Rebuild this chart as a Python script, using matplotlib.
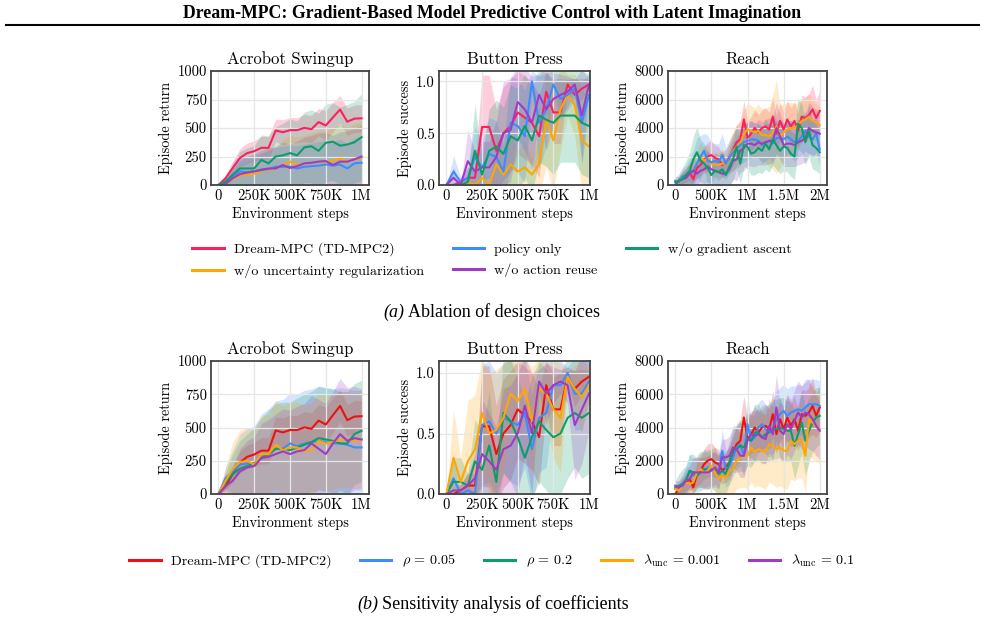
import numpy as np
import matplotlib.pyplot as plt
from matplotlib.lines import Line2D

plt.rcParams['font.family'] = 'cmr10'
plt.rcParams['mathtext.fontset'] = 'cm'
plt.rcParams['axes.formatter.use_mathtext'] = True

# colours
RED_A = '#FF1F5B'
RED_B = '#EE1111'
BLUE = '#3C8CFF'
GREEN = '#0C9E6A'
ORANGE = '#FFA600'
PURPLE = '#A03CC4'

# evaluation grids (every 50K steps)
steps_1m = np.arange(21) * 50_000
steps_2m = np.arange(41) * 50_000

# ---------------- Acrobot Swingup ----------------
acro_dream = [0, 60, 150, 237, 279, 297, 326, 326, 478, 463, 481, 481, 501, 490, 552, 522, 593, 662, 555, 582, 585]
acro_dream_sd = [0, 30, 60, 80, 90, 90, 100, 100, 100, 110, 110, 110, 120, 120, 120, 130, 130, 120, 120, 120, 120]
# (a) ablations
acro_policy = [0, 30, 80, 120, 110, 120, 130, 140, 160, 160, 160, 145, 160, 165, 170, 180, 170, 180, 145, 190, 195]
acro_policy_sd = [0, 40, 90, 130, 140, 140, 150, 160, 170, 180, 190, 200, 200, 200, 210, 210, 210, 220, 220, 220, 230]
acro_nograd = [0, 30, 90, 145, 145, 145, 220, 190, 250, 260, 280, 260, 330, 340, 300, 370, 380, 345, 355, 375, 420]
acro_nograd_sd = [0, 40, 100, 150, 180, 200, 220, 240, 260, 280, 300, 300, 310, 320, 330, 340, 340, 340, 350, 360, 380]
acro_nounc = [0, 20, 50, 85, 90, 100, 120, 135, 140, 175, 205, 180, 185, 195, 205, 200, 215, 230, 210, 225, 240]
acro_nounc_sd = [0, 30, 70, 100, 120, 140, 160, 180, 200, 220, 230, 240, 250, 260, 270, 280, 290, 300, 300, 310, 320]
acro_noreuse = [0, 10, 60, 95, 110, 120, 135, 145, 145, 175, 150, 165, 190, 195, 205, 210, 175, 205, 205, 225, 250]
acro_noreuse_sd = [0, 30, 80, 120, 140, 150, 170, 180, 190, 200, 210, 220, 230, 240, 250, 250, 260, 260, 270, 270, 280]
# (b) coefficients
acro_rho005 = [0, 120, 170, 220, 230, 230, 280, 300, 340, 340, 380, 360, 380, 390, 400, 390, 380, 380, 370, 350, 350]
acro_rho005_sd = [0, 80, 160, 230, 260, 280, 320, 340, 360, 370, 380, 390, 400, 400, 410, 410, 410, 420, 420, 430, 430]
acro_rho02 = [0, 90, 150, 190, 210, 230, 270, 300, 340, 340, 330, 350, 370, 390, 420, 410, 400, 380, 380, 450, 475]
acro_rho02_sd = [0, 70, 150, 210, 240, 270, 300, 330, 340, 350, 360, 370, 380, 380, 390, 390, 390, 390, 390, 380, 380]
acro_lam0001 = [0, 100, 190, 240, 250, 220, 300, 300, 370, 330, 350, 350, 320, 330, 400, 380, 390, 410, 410, 400, 410]
acro_lam0001_sd = [0, 100, 200, 240, 250, 260, 290, 300, 330, 330, 340, 340, 350, 350, 360, 360, 360, 360, 360, 360, 360]
acro_lam01 = [0, 60, 100, 170, 200, 210, 270, 280, 300, 320, 300, 320, 330, 380, 340, 300, 380, 450, 400, 420, 410]
acro_lam01_sd = [0, 50, 110, 170, 200, 220, 260, 280, 300, 320, 330, 340, 350, 360, 370, 380, 390, 420, 400, 390, 380]

# ---------------- Button Press ----------------
btn_dream = [0, 0, 0.03, 0.07, 0.07, 0.56, 0.56, 0.33, 0.5, 0.57, 0.7, 0.65, 0.6, 0.47, 0.9, 0.7, 0.7, 0.97, 0.87, 0.93, 0.97]
btn_dream_sd = [0, 0, 0.05, 0.1, 0.1, 0.5, 0.5, 0.4, 0.45, 0.45, 0.4, 0.4, 0.4, 0.4, 0.2, 0.3, 0.3, 0.05, 0.15, 0.1, 0.05]
btn_policy = [0, 0.13, 0.03, 0.07, 0.27, 0.17, 0.3, 0.27, 0.13, 0.6, 0.57, 0.47, 1.0, 0.6, 0.73, 0.97, 0.83, 0.87, 0.93, 0.6, 0.87]
btn_policy_sd = [0, 0.15, 0.05, 0.1, 0.3, 0.25, 0.35, 0.35, 0.25, 0.45, 0.45, 0.45, 0.1, 0.45, 0.35, 0.05, 0.2, 0.15, 0.1, 0.4, 0.2]
btn_nograd = [0, 0, 0, 0.03, 0.33, 0.1, 0.33, 0.37, 0.3, 0.47, 0.43, 0.57, 0.43, 0.67, 0.63, 0.6, 0.67, 0.67, 0.67, 0.6, 0.57]
btn_nograd_sd = [0, 0, 0, 0.05, 0.45, 0.15, 0.4, 0.45, 0.45, 0.5, 0.5, 0.5, 0.5, 0.45, 0.45, 0.5, 0.45, 0.45, 0.45, 0.5, 0.5]
btn_nounc = [0, 0, 0, 0.03, 0, 0.07, 0, 0.2, 0.1, 0.2, 0.13, 0.17, 0.1, 0.2, 0.63, 0.43, 0.73, 0.87, 0.77, 0.43, 0.37]
btn_nounc_sd = [0, 0, 0, 0.05, 0, 0.1, 0, 0.3, 0.15, 0.3, 0.2, 0.25, 0.15, 0.3, 0.45, 0.5, 0.4, 0.2, 0.3, 0.5, 0.45]
btn_noreuse = [0, 0.07, 0, 0.23, 0.13, 0.17, 0.17, 0.27, 0.5, 0.53, 0.8, 0.73, 0.6, 0.87, 0.73, 0.83, 0.87, 0.9, 0.97, 0.67, 0.97]
btn_noreuse_sd = [0, 0.1, 0, 0.3, 0.2, 0.25, 0.25, 0.35, 0.5, 0.5, 0.35, 0.4, 0.45, 0.2, 0.4, 0.25, 0.2, 0.15, 0.05, 0.45, 0.05]
btn_rho005 = [0, 0.13, 0, 0.03, 0, 0.57, 0.6, 0.5, 0.63, 0.6, 0.57, 0.67, 0.37, 0.63, 0.67, 0.9, 0.9, 1.0, 0.83, 0.83, 0.93]
btn_rho005_sd = [0, 0.15, 0, 0.05, 0, 0.5, 0.5, 0.5, 0.45, 0.5, 0.5, 0.45, 0.45, 0.45, 0.45, 0.2, 0.2, 0.05, 0.3, 0.3, 0.15]
btn_rho02 = [0, 0.1, 0.1, 0.07, 0.27, 0.2, 0.4, 0.1, 0.67, 0.6, 0.47, 0.3, 0.47, 0.6, 0.53, 0.47, 0.5, 0.63, 0.67, 0.63, 0.67]
btn_rho02_sd = [0, 0.2, 0.2, 0.1, 0.35, 0.3, 0.45, 0.2, 0.5, 0.5, 0.5, 0.45, 0.5, 0.5, 0.5, 0.5, 0.5, 0.5, 0.45, 0.5, 0.5]
btn_lam0001 = [0, 0.3, 0.1, 0.27, 0.37, 0.67, 0.5, 0.53, 0.63, 0.83, 0.77, 0.87, 0.6, 0.87, 0.83, 0.7, 0.63, 0.97, 0.87, 0.8, 0.9]
btn_lam0001_sd = [0, 0.4, 0.2, 0.5, 0.45, 0.45, 0.5, 0.5, 0.45, 0.3, 0.35, 0.25, 0.45, 0.25, 0.25, 0.4, 0.45, 0.05, 0.2, 0.3, 0.15]
btn_lam01 = [0, 0.03, 0.03, 0.07, 0.13, 0.33, 0.27, 0.2, 0.37, 0.4, 0.5, 0.73, 0.5, 0.93, 0.83, 0.9, 0.93, 0.9, 0.57, 0.7, 0.83]
btn_lam01_sd = [0, 0.05, 0.05, 0.1, 0.2, 0.45, 0.4, 0.35, 0.5, 0.5, 0.5, 0.4, 0.5, 0.1, 0.25, 0.15, 0.1, 0.15, 0.45, 0.45, 0.3]

# ---------------- Reach ----------------
reach_dream = [0, 300, 500, 700, 900, 400, 1200, 1400, 1800, 2000, 2100, 1900, 1800, 1400, 1600, 1900, 2500, 3000, 3200, 4600,
               3300, 3600, 4000, 3700, 4000, 4100, 3900, 4800, 3600, 4500, 3900, 4600, 4100, 4500, 3800, 4800, 4700, 4900, 5300, 4700, 5200]
reach_dream_sd = [200, 300, 400, 500, 600, 500, 700, 800, 900, 1000, 1000, 900, 900, 800, 900, 1000, 1100, 1200, 1300, 1300,
                  1200, 1200, 1300, 1200, 1300, 1300, 1200, 1400, 1200, 1300, 1200, 1300, 1300, 1400, 1200, 1500, 1500, 1500, 1700, 1300, 1400]
reach_policy = [300, 200, 600, 600, 900, 1000, 1500, 2000, 2400, 1700, 1600, 1700, 1600, 2100, 1500, 2000, 2300, 2600, 2800, 3000,
                3100, 3200, 3200, 3100, 2800, 3000, 3100, 2900, 3300, 3300, 3200, 3400, 3200, 3000, 3100, 3400, 3800, 3400, 3200, 3600, 2500]
reach_policy_sd = [300, 400, 600, 800, 1000, 1400, 1800, 1500, 1200, 1800, 1400, 1200, 1300, 1500, 1100, 1200, 1300, 1300, 1300, 1400,
                   1300, 1300, 1200, 1200, 1300, 1300, 1200, 1300, 1200, 1300, 1200, 1200, 1300, 1300, 1200, 1300, 1400, 1200, 1300, 1300, 1200]
reach_nograd = [200, 300, 400, 700, 1000, 1800, 2300, 1700, 1500, 1200, 700, 1000, 900, 1100, 700, 1300, 1800, 2700, 1500, 2800,
                2700, 2200, 2300, 2600, 2400, 2900, 2500, 3200, 2800, 2400, 2700, 2600, 2200, 2000, 4300, 4000, 3000, 3800, 2800, 2600, 2300]
reach_nograd_sd = [300, 500, 800, 1000, 1300, 1600, 1800, 1500, 1400, 1200, 1100, 1300, 1200, 1300, 1200, 1400, 1500, 1600, 1400, 1500,
                   1600, 1500, 1600, 1700, 1600, 1800, 1600, 1800, 1700, 1600, 1700, 1700, 1600, 1600, 1800, 1700, 1600, 1800, 1700, 1600, 1500]
reach_nounc = [0, 200, 400, 600, 800, 1100, 1500, 2000, 1700, 1900, 1500, 1400, 1400, 1500, 1500, 2000, 2400, 2700, 2900, 3600,
               3900, 3800, 3700, 3800, 3500, 3500, 3400, 3700, 4100, 3400, 3700, 3900, 4000, 4000, 4200, 4500, 4600, 4800, 4500, 4400, 4200]
reach_nounc_sd = [200, 300, 500, 600, 700, 800, 900, 1000, 900, 1000, 900, 800, 900, 1000, 900, 1100, 1400, 1500, 1600, 1700,
                  1800, 1800, 1700, 1900, 1800, 1900, 2100, 2600, 3300, 2200, 2000, 1900, 1800, 1700, 1600, 1500, 1500, 1600, 1400, 1300, 1300]
reach_noreuse = [0, 300, 400, 500, 800, 1000, 800, 1000, 1100, 1300, 1100, 1000, 900, 800, 800, 1100, 1700, 1800, 2400, 2600,
                 2900, 2900, 2800, 3000, 2900, 3000, 3100, 3100, 4000, 3400, 2800, 2900, 2900, 2800, 3000, 3100, 3300, 4000, 3800, 3700, 3600]
reach_noreuse_sd = [200, 300, 500, 600, 800, 900, 800, 900, 1000, 1100, 1000, 1000, 900, 900, 900, 1100, 1300, 1500, 1500, 1600,
                    1500, 1600, 1500, 1600, 1500, 1600, 1600, 1600, 1800, 1600, 1500, 1600, 1600, 1500, 1600, 1600, 1700, 1800, 1700, 1600, 1600]
reach_rho005 = [300, 400, 600, 900, 1400, 1100, 1300, 1500, 1400, 1600, 1500, 1400, 1300, 2600, 1500, 1700, 2200, 2800, 3000, 2300,
                4200, 3200, 3400, 4000, 4200, 3900, 3700, 4000, 4500, 4800, 5000, 4700, 4900, 5000, 5100, 5000, 5200, 5400, 5400, 5400, 5300]
reach_rho005_sd = [300, 400, 600, 800, 1000, 1000, 1000, 1100, 1100, 1100, 1100, 1000, 1000, 1300, 1100, 1100, 1200, 1300, 1300, 1300,
                   1500, 1400, 1400, 1500, 1500, 1500, 1500, 1600, 1700, 1600, 1600, 1600, 1600, 1500, 1500, 1500, 1500, 1500, 1500, 1500, 1500]
reach_rho02 = [400, 500, 600, 800, 1400, 1300, 1100, 1300, 1500, 1400, 1500, 1500, 1200, 1400, 1200, 1900, 2700, 2700, 2900, 2800,
               3300, 3200, 3700, 3700, 3400, 3600, 3700, 3900, 3900, 4000, 3900, 3800, 3800, 2900, 3600, 4300, 3200, 3800, 4300, 4600, 4700]
reach_rho02_sd = [400, 700, 900, 900, 1000, 1100, 1000, 1100, 1200, 1100, 1200, 1300, 1200, 1300, 1200, 1300, 1400, 1400, 1500, 1500,
                  1600, 1600, 1700, 1700, 1600, 1700, 1700, 1800, 1800, 1800, 1900, 1800, 1800, 2000, 1900, 1900, 2100, 1900, 1800, 1800, 1700]
reach_lam0001 = [300, 200, 500, 700, 600, 700, 1300, 1500, 1300, 1400, 1700, 1300, 900, 1100, 1000, 1400, 1500, 2000, 2200, 2300,
                 2300, 2800, 2500, 2700, 2600, 2500, 3000, 2900, 2700, 2800, 2600, 2600, 3200, 3000, 3200, 3200, 2300, 4500, 4300, 4100, 3900]
reach_lam0001_sd = [200, 300, 500, 600, 700, 800, 900, 1000, 1000, 1100, 1100, 1200, 1300, 1300, 1300, 1500, 1600, 1700, 1800, 1900,
                    2000, 2100, 2100, 2200, 2200, 2200, 2300, 2300, 2300, 2300, 2300, 2300, 2300, 2200, 2200, 2200, 2200, 2200, 2200, 2100, 2100]
reach_lam01 = [500, 400, 500, 800, 900, 1300, 1300, 1300, 1300, 1300, 1400, 1600, 1300, 2200, 2200, 2300, 2800, 2700, 2300, 2300,
               3200, 3600, 3500, 3600, 3400, 3300, 4100, 3600, 5200, 3800, 3600, 4200, 3900, 4400, 4900, 4600, 4900, 4800, 4500, 4100, 3800]
reach_lam01_sd = [300, 400, 500, 700, 800, 900, 900, 900, 900, 1000, 1000, 1000, 1000, 1100, 1100, 1200, 1200, 1300, 1300, 1300,
                  1400, 1400, 1500, 1500, 1500, 1500, 1600, 1600, 2000, 1700, 1700, 1800, 1800, 1800, 1900, 1900, 2000, 2100, 1900, 1800, 1700]

labels_a = ['Dream-MPC (TD-MPC2)', 'w/o uncertainty regularization', 'policy only', 'w/o action reuse', 'w/o gradient ascent']
colors_a = [RED_A, ORANGE, BLUE, PURPLE, GREEN]
labels_b = ['Dream-MPC (TD-MPC2)', r'$\rho\,=\,0.05$', r'$\rho\,=\,0.2$', r'$\lambda_{\mathrm{unc}}\,=\,0.001$',
            r'$\lambda_{\mathrm{unc}}\,=\,0.1$']
colors_b = [RED_B, BLUE, GREEN, ORANGE, PURPLE]

x_ticks_1m = [0, 250_000, 500_000, 750_000, 1_000_000]
x_labels_1m = ['0', '250K', '500K', '750K', '1M']
x_ticks_2m = [0, 500_000, 1_000_000, 1_500_000, 2_000_000]
x_labels_2m = ['0', '500K', '1M', '1.5M', '2M']


def draw_panel(ax, steps, series, colors, title, ylabel, yticks, ylabels, ylim, xticks, xlabels, xlim):
    # fills first, then the mean curves on top
    for (mean, sd), c in zip(series, colors):
        mean = np.array(mean, dtype=float)
        sd = np.array(sd, dtype=float)
        ax.fill_between(steps, mean - sd, mean + sd, color=c, alpha=0.22, lw=0, zorder=0.3)
    for (mean, sd), c in zip(series, colors):
        ax.plot(steps, mean, color=c, lw=1.5, zorder=2)
    ax.set_title(title, fontsize=12, pad=5)
    ax.set_ylabel(ylabel, fontsize=10.3, labelpad=3)
    ax.set_xlabel('Environment steps', fontsize=10.3, labelpad=3)
    ax.set_ylim(*ylim)
    ax.set_xlim(*xlim)
    ax.set_yticks(yticks)
    ax.set_yticklabels(ylabels)
    ax.set_xticks(xticks)
    ax.set_xticklabels(xlabels)
    ax.tick_params(length=0, labelsize=10.5, pad=3)
    ax.grid(True, color='#e6e6e6', lw=0.9)
    ax.set_axisbelow(True)
    for s in ax.spines.values():
        s.set_color('#444444')
        s.set_linewidth(1.3)


fig = plt.figure(figsize=(9.85, 6.19), dpi=100)
W, H = 985, 619


def px_axes(x0, x1, y0, y1):
    return fig.add_axes([x0 / W, 1 - y1 / H, (x1 - x0) / W, (y1 - y0) / H])


acro_lim = (-52_000, 1_052_000)
btn_lim = (-52_000, 1_007_000)
reach_lim = (-100_000, 2_100_000)

rows = [
    dict(y=(71, 185), colors=colors_a,
         acro=[(acro_dream, acro_dream_sd), (acro_nounc, acro_nounc_sd), (acro_policy, acro_policy_sd),
               (acro_noreuse, acro_noreuse_sd), (acro_nograd, acro_nograd_sd)],
         btn=[(btn_dream, btn_dream_sd), (btn_nounc, btn_nounc_sd), (btn_policy, btn_policy_sd),
              (btn_noreuse, btn_noreuse_sd), (btn_nograd, btn_nograd_sd)],
         reach=[(reach_dream, reach_dream_sd), (reach_nounc, reach_nounc_sd), (reach_policy, reach_policy_sd),
                (reach_noreuse, reach_noreuse_sd), (reach_nograd, reach_nograd_sd)]),
    dict(y=(361, 494), colors=colors_b,
         acro=[(acro_dream, acro_dream_sd), (acro_rho005, acro_rho005_sd), (acro_rho02, acro_rho02_sd),
               (acro_lam0001, acro_lam0001_sd), (acro_lam01, acro_lam01_sd)],
         btn=[(btn_dream, btn_dream_sd), (btn_rho005, btn_rho005_sd), (btn_rho02, btn_rho02_sd),
              (btn_lam0001, btn_lam0001_sd), (btn_lam01, btn_lam01_sd)],
         reach=[(reach_dream, reach_dream_sd), (reach_rho005, reach_rho005_sd), (reach_rho02, reach_rho02_sd),
                (reach_lam0001, reach_lam0001_sd), (reach_lam01, reach_lam01_sd)]),
]

for r in rows:
    y0, y1 = r['y']
    ax = px_axes(211, 369, y0, y1)
    draw_panel(ax, steps_1m, r['acro'], r['colors'], 'Acrobot Swingup', 'Episode return',
               [0, 250, 500, 750, 1000], ['0', '250', '500', '750', '1000'], (0, 1000),
               x_ticks_1m, x_labels_1m, acro_lim)
    ax = px_axes(439, 590, y0, y1)
    draw_panel(ax, steps_1m, r['btn'], r['colors'], 'Button Press', 'Episode success',
               [0, 0.5, 1.0], ['0.0', '0.5', '1.0'], (0, 1.1),
               x_ticks_1m, x_labels_1m, btn_lim)
    ax = px_axes(668, 827, y0, y1)
    draw_panel(ax, steps_2m, r['reach'], r['colors'], 'Reach', 'Episode return',
               [0, 2000, 4000, 6000, 8000], ['0', '2000', '4000', '6000', '8000'], (0, 8000),
               x_ticks_2m, x_labels_2m, reach_lim)

# legends
handles_a = [Line2D([], [], color=c, lw=2.2) for c in colors_a]
fig.legend(handles_a, labels_a, ncol=3, loc='center', bbox_to_anchor=(492 / W, 1 - 260 / H),
           frameon=False, fontsize=10.2, handlelength=2.2, handletextpad=0.75, columnspacing=2.0,
           labelspacing=0.55)
handles_b = [Line2D([], [], color=c, lw=2.2) for c in colors_b]
fig.legend(handles_b, labels_b, ncol=5, loc='center', bbox_to_anchor=(492 / W, 1 - 561 / H),
           frameon=False, fontsize=10.2, handlelength=2.2, handletextpad=0.75, columnspacing=2.0)

# header and captions
fig.text(0.5, 1 - 14 / H, 'Dream-MPC: Gradient-Based Model Predictive Control with Latent Imagination',
         ha='center', va='center', fontsize=12.8, fontweight='bold', family='Liberation Serif')
fig.add_artist(Line2D([6 / W, 979 / W], [1 - 25 / H, 1 - 25 / H], color='black', lw=1.5))

fig.text(404 / W, 1 - 312 / H, '(a)', ha='right', va='center', fontsize=13, style='italic', family='Liberation Serif')
fig.text(408 / W, 1 - 312 / H, 'Ablation of design choices', ha='left', va='center', fontsize=13,
         family='Liberation Serif')
fig.text(378 / W, 1 - 604 / H, '(b)', ha='right', va='center', fontsize=13, style='italic', family='Liberation Serif')
fig.text(382 / W, 1 - 604 / H, 'Sensitivity analysis of coefficients', ha='left', va='center', fontsize=13,
         family='Liberation Serif')

fig.savefig('out.png', dpi=100)
